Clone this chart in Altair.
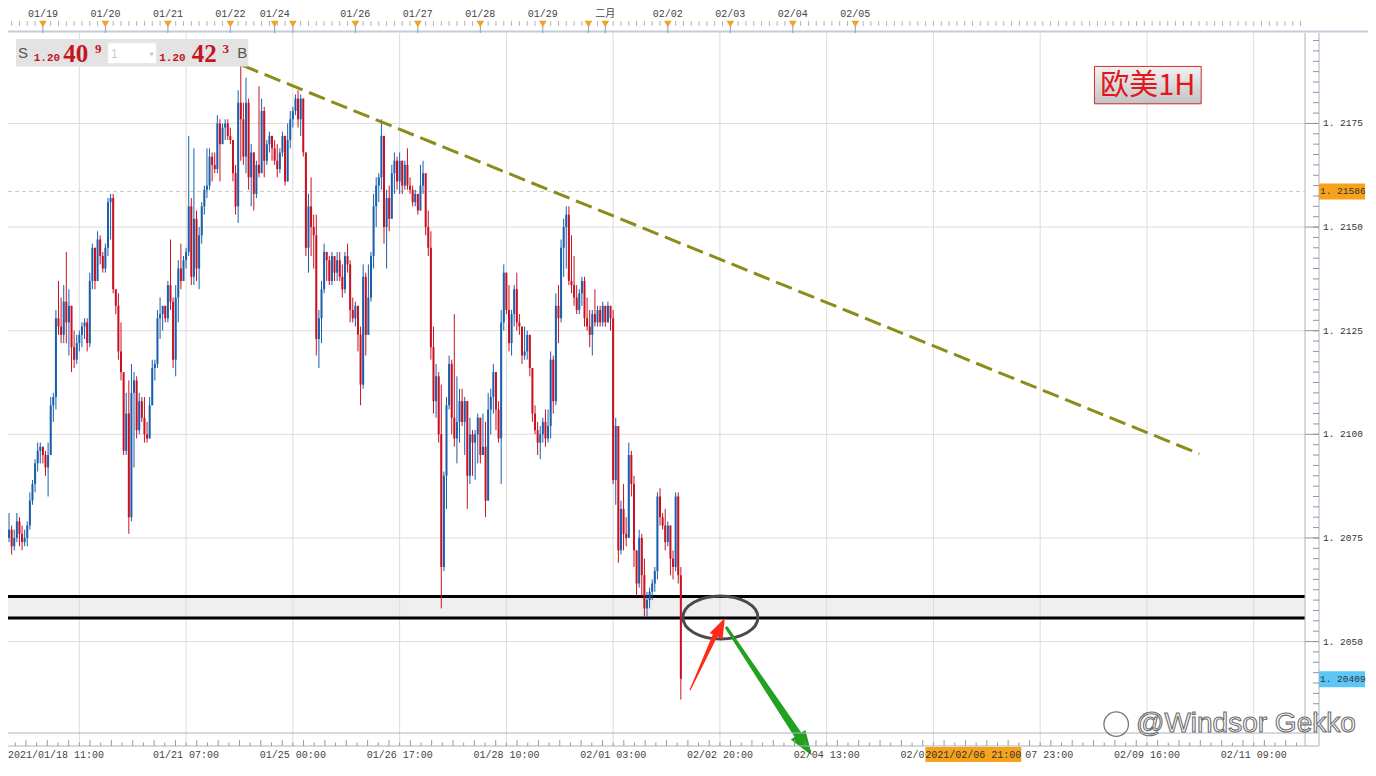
import altair as alt
import numpy as np
import pandas as pd

# ---------------- data (EUR/USD, 1H) ----------------
BASE = 1.2000          # price = BASE + pips * PIP
PIP = 0.0001
FIRST_OPEN = 75        # pips

CLOSE_PIPS = [
    77, 73, 75, 79, 76, 74, 75, 78, 84, 88,
    93, 96, 97, 95, 92, 95, 107, 109, 128, 126,
    124, 132, 127, 131, 121, 118, 122, 124, 126, 127,
    122, 137, 145, 137, 147, 143, 140, 145, 156, 157,
    135, 131, 120, 115, 96, 105, 80, 110, 113, 101,
    108, 104, 100, 99, 107, 116, 117, 128, 129, 131,
    128, 136, 132, 118, 133, 140, 137, 142, 144, 155,
    138, 152, 140, 148, 155, 159, 160, 167, 165, 164,
    175, 170, 174, 175, 172, 171, 163, 155, 180, 176,
    167, 180, 162, 168, 158, 165, 163, 178, 166, 170,
    172, 169, 166, 164, 168, 172, 161, 171, 176, 178,
    181, 176, 181, 168, 145, 155, 150, 148, 123, 128,
    135, 144, 142, 137, 143, 139, 142, 138, 135, 143,
    141, 130, 128, 131, 124, 112, 138, 124, 133, 143,
    155, 160, 162, 172, 150, 157, 152, 163, 166, 161,
    166, 160, 165, 160, 159, 156, 158, 154, 160, 163,
    150, 145, 121, 108, 114, 100, 68, 90, 107, 117,
    104, 99, 103, 108, 103, 108, 90, 100, 98, 100,
    104, 95, 97, 84, 106, 109, 115, 106, 99, 127,
    139, 130, 122, 129, 135, 127, 126, 119, 120, 124,
    116, 105, 101, 98, 100, 103, 99, 102, 118, 108,
    131, 128, 145, 150, 153, 137, 136, 133, 130, 134,
    137, 128, 126, 124, 129, 127, 130, 127, 131, 127,
    131, 128, 89, 102, 72, 82, 76, 75, 95, 88,
    72, 64, 75, 66, 58, 60, 62, 64, 67, 85,
    80, 78, 74, 78, 70, 68, 85, 66, 41,
]
HIGH_PIPS = [
    81, 78, 77, 81, 80, 78, 77, 79, 86, 89,
    94, 98, 98, 97, 96, 98, 109, 110, 130, 137,
    133, 136, 144, 135, 128, 125, 124, 125, 127, 128,
    128, 139, 146, 144, 149, 148, 144, 146, 157, 158,
    158, 135, 134, 127, 115, 110, 113, 117, 115, 114,
    110, 109, 109, 103, 109, 118, 118, 130, 133, 131,
    131, 137, 147, 133, 136, 142, 146, 143, 145, 172,
    157, 169, 154, 150, 156, 160, 169, 169, 168, 168,
    177, 176, 175, 176, 176, 174, 171, 165, 183, 189,
    180, 186, 181, 170, 168, 166, 184, 181, 179, 171,
    173, 172, 171, 170, 169, 173, 172, 175, 178, 179,
    182, 183, 182, 181, 168, 158, 162, 153, 153, 130,
    137, 146, 144, 143, 144, 141, 144, 144, 141, 144,
    146, 142, 133, 132, 131, 126, 141, 139, 141, 144,
    158, 162, 163, 176, 172, 159, 160, 165, 168, 167,
    168, 166, 166, 169, 162, 160, 159, 158, 165, 166,
    163, 154, 149, 126, 117, 115, 112, 91, 109, 119,
    118, 129, 114, 111, 111, 109, 108, 104, 101, 101,
    105, 104, 105, 103, 110, 111, 117, 115, 108, 130,
    141, 139, 136, 130, 136, 139, 129, 126, 126, 125,
    124, 116, 107, 103, 102, 104, 106, 106, 120, 119,
    134, 136, 147, 152, 155, 155, 148, 143, 136, 135,
    138, 138, 133, 130, 130, 135, 131, 131, 132, 131,
    132, 131, 130, 104, 102, 84, 88, 80, 98, 96,
    90, 72, 77, 76, 70, 62, 63, 65, 68, 86,
    87, 81, 82, 79, 78, 72, 86, 86, 68,
]
LOW_PIPS = [
    74, 71, 72, 74, 73, 72, 73, 73, 77, 83,
    86, 91, 93, 93, 90, 85, 95, 103, 106, 124,
    122, 122, 122, 119, 115, 116, 117, 120, 121, 123,
    120, 121, 135, 135, 137, 141, 139, 139, 143, 147,
    134, 129, 118, 113, 95, 95, 76, 79, 92, 99,
    100, 103, 98, 98, 99, 107, 113, 116, 123, 125,
    127, 127, 130, 116, 114, 127, 135, 137, 140, 143,
    136, 136, 137, 135, 146, 153, 157, 159, 161, 163,
    163, 161, 170, 171, 171, 170, 161, 153, 151, 166,
    165, 163, 159, 155, 154, 157, 162, 163, 162, 165,
    168, 166, 165, 162, 163, 167, 160, 161, 169, 174,
    177, 174, 172, 167, 143, 139, 143, 140, 119, 116,
    122, 134, 137, 136, 136, 137, 137, 137, 133, 134,
    139, 127, 127, 126, 120, 107, 111, 119, 124, 132,
    140, 150, 156, 159, 146, 140, 149, 152, 158, 159,
    158, 158, 159, 159, 158, 155, 155, 153, 154, 158,
    148, 143, 118, 105, 104, 98, 58, 67, 82, 106,
    100, 97, 93, 98, 102, 95, 82, 88, 90, 89,
    93, 93, 95, 80, 84, 100, 105, 101, 98, 88,
    125, 129, 120, 119, 126, 125, 124, 117, 118, 118,
    114, 103, 100, 95, 94, 98, 97, 98, 99, 105,
    107, 122, 127, 138, 140, 136, 134, 131, 129, 129,
    131, 126, 125, 121, 119, 126, 126, 126, 126, 126,
    127, 125, 88, 83, 69, 71, 72, 73, 75, 85,
    68, 61, 63, 61, 56, 56, 58, 60, 62, 65,
    78, 77, 72, 73, 66, 65, 67, 64, 36,
]

# axis / annotation values
GRID_PRICES = [1.2050, 1.2075, 1.2100, 1.2125, 1.2150, 1.2175]
GRID_IDX = [27, 68, 109, 150, 191, 232, 273, 314, 355, 396, 437, 478]
BOTTOM_IDX = [68, 109, 150, 191, 232, 273, 314, 437, 478]
BOTTOM_LABELS = ["01/21 07:00", "01/25 00:00", "01/26 17:00", "01/28 10:00", "02/01 03:00",
                 "02/02 20:00", "02/04 13:00", "02/09 16:00", "02/11 09:00"]
HIDDEN_LEFT = (355, "02/0")        # "02/05 06:00", partly covered by the crosshair label
HIDDEN_RIGHT = (396, "07 23:00")   # "02/07 23:00", partly covered by the crosshair label
FIRST_LABEL = "2021/01/18 11:00"
CROSS_LABEL = "2021/02/06 21:00"
TOP_MARK_IDX = [13, 37, 61, 85, 102, 109, 133, 157, 181, 205, 222.5, 229, 253, 277, 301, 325]
TOP_LABEL_IDX = [13, 37, 61, 85, 102, 133, 157, 181, 205, 229, 253, 277, 301, 325]
TOP_LABELS = ["01/19", "01/20", "01/21", "01/22", "01/24", "01/26", "01/27", "01/28",
              "01/29", "二月", "02/02", "02/03", "02/04", "02/05"]
LAST_PRICE = 1.21586
BID_PRICE = 1.20409
SUPPORT = [1.20609, 1.20557]
TREND_I = [89.6, 457.1]
TREND_P = [1.21890, 1.20953]
ELLIPSE_I, ELLIPSE_P = 273.2, 1.20558
RED_I = [261.6, 271.1]
RED_P = [1.20384, 1.20514]
RED_W = [1.2, 5.0]
RED_TIP = (274.9, 1.20557)
GREEN_I = [275.6, 303.3]
GREEN_P = [1.20533, 1.20272]
GREEN_W = [3.0, 8.0]
GREEN_TIP = (308.3, 1.20225)

# ---------------- styling / layout ----------------
RED = "#cc1020"
BLUE = "#1a5fae"
OLIVE = "#8c8c1a"
GRID = "#dcdcdc"
AXIS = "#a9b4c2"
MONO = "Liberation Mono, Noto Sans CJK SC"
W, H = 1297, 700
XDOM = [-0.4, 497.7]
YDOM = [1.202794, 1.219682]


def sx(rx):
    return rx * W / 1312


def sy(ry):
    return (ry - 30) * H / 712


xs = alt.Scale(domain=XDOM, nice=False, zero=False)
ys = alt.Scale(domain=YDOM, nice=False, zero=False)


def X(f):
    return alt.X(f, type="quantitative", scale=xs, axis=None)


def Y(f):
    return alt.Y(f, type="quantitative", scale=ys, axis=None)


def deco():
    return alt.Chart(pd.DataFrame({"z": [0]}))


# ---------------- candle table ----------------
n = len(CLOSE_PIPS)
df = pd.DataFrame({
    "i": np.arange(n),
    "o": [FIRST_OPEN] + CLOSE_PIPS[:-1],
    "c": CLOSE_PIPS,
    "h": HIGH_PIPS,
    "l": LOW_PIPS,
})
df["h"] = df[["o", "c", "h"]].max(axis=1)
df["l"] = df[["o", "c", "l"]].min(axis=1)
for col in ["o", "c", "h", "l"]:
    df[col] = BASE + df[col] * PIP
df["dir"] = np.where(df["c"] < df["o"], "down", "up")
cenc = alt.Color("dir:N", scale=alt.Scale(domain=["down", "up"], range=[RED, BLUE]), legend=None)

layers = []

# support band + grid
layers.append(alt.Chart(pd.DataFrame({"hi": [SUPPORT[0]], "lo": [SUPPORT[1]]}))
              .mark_rect(color="#efefef")
              .encode(x=alt.value(0), x2=alt.value(W), y=Y("hi"), y2=alt.Y2("lo")))
layers.append(alt.Chart(pd.DataFrame({"p": GRID_PRICES})).mark_rule(color=GRID, strokeWidth=1)
              .encode(x=alt.value(0), x2=alt.value(W), y=Y("p")))
layers.append(alt.Chart(pd.DataFrame({"g": GRID_IDX})).mark_rule(color=GRID, strokeWidth=1)
              .encode(x=X("g"), y=alt.value(0), y2=alt.value(H + 13)))
layers.append(alt.Chart(pd.DataFrame({"p": [LAST_PRICE]}))
              .mark_rule(color="#c8c8c8", strokeWidth=1, strokeDash=[4, 3])
              .encode(x=alt.value(0), x2=alt.value(W), y=Y("p")))
layers.append(alt.Chart(pd.DataFrame({"p": SUPPORT})).mark_rule(color="#000000", strokeWidth=3)
              .encode(x=alt.value(0), x2=alt.value(W), y=Y("p")))

# candles
layers.append(alt.Chart(df).mark_rule(strokeWidth=1)
              .encode(x=X("i"), y=Y("l"), y2=alt.Y2("h"), color=cenc))
layers.append(alt.Chart(df).mark_rule(strokeWidth=2)
              .encode(x=X("i"), y=Y("o"), y2=alt.Y2("c"), color=cenc))

# trend line
layers.append(alt.Chart(pd.DataFrame({"i": TREND_I, "p": TREND_P}))
              .mark_line(color=OLIVE, strokeWidth=3, strokeDash=[17, 7])
              .encode(x=X("i"), y=Y("p")))

# ellipse
ELLIPSE = "M-1,0A1,0.575,0,1,1,1,0A1,0.575,0,1,1,-1,0Z"
layers.append(alt.Chart(pd.DataFrame({"i": [ELLIPSE_I], "p": [ELLIPSE_P]}))
              .mark_point(shape=ELLIPSE, size=75 * 75, filled=False, color="#4a4a4a",
                          strokeWidth=3, opacity=1)
              .encode(x=X("i"), y=Y("p")))

# arrows
HEAD = "M0,0L0.6,1.7L-0.6,1.7Z"
for (ii, pp, ww, tip, col, ang, hs) in [
        (RED_I, RED_P, RED_W, RED_TIP, "#ff2a1a", 25.6, 560),
        (GREEN_I, GREEN_P, GREEN_W, GREEN_TIP, "#22a020", 146.5, 860)]:
    layers.append(alt.Chart(pd.DataFrame({"i": ii, "p": pp, "w": ww, "k": [0, 1]}))
                  .mark_trail(color=col)
                  .encode(x=X("i"), y=Y("p"), size=alt.Size("w:Q", scale=None),
                          order=alt.Order("k:Q")))
    layers.append(alt.Chart(pd.DataFrame({"i": [tip[0]], "p": [tip[1]]}))
                  .mark_point(shape=HEAD, size=hs, filled=True, color=col, opacity=1,
                              angle=ang, strokeWidth=0)
                  .encode(x=X("i"), y=Y("p")))

# ---------------- right price axis ----------------
minor = np.round(np.arange(1.2030, 1.2197, 0.00025), 5)
layers.append(deco().mark_rule(color=AXIS, strokeWidth=1)
              .encode(x=alt.value(W), y=alt.value(0), y2=alt.value(H + 13)))
layers.append(deco().mark_rule(color=AXIS, strokeWidth=1)
              .encode(x=alt.value(W + 14), y=alt.value(0), y2=alt.value(H + 13)))
layers.append(alt.Chart(pd.DataFrame({"p": minor})).mark_rule(color="#8d96a3", strokeWidth=1)
              .encode(x=alt.value(W + 8), x2=alt.value(W + 14), y=Y("p")))
layers.append(alt.Chart(pd.DataFrame({"p": GRID_PRICES})).mark_rule(color="#8d96a3", strokeWidth=1)
              .encode(x=alt.value(W), x2=alt.value(W + 14), y=Y("p")))
lab = pd.DataFrame({"p": GRID_PRICES})
lab["t"] = [("%.4f" % v).replace(".", ". ") for v in GRID_PRICES]
layers.append(alt.Chart(lab).mark_text(align="left", baseline="middle", font=MONO, fontSize=9.5,
                                       color="#333333")
              .encode(x=alt.value(W + 18), y=Y("p"), text="t:N"))
BOX = "M0,-0.174L1,-0.174L1,0.174L0,0.174Z"
for price, col in [(LAST_PRICE, "#f7a21b"), (BID_PRICE, "#5cc6f6")]:
    d = pd.DataFrame({"p": [price], "t": [("%.5f" % price).replace(".", ". ")]})
    layers.append(alt.Chart(d).mark_point(shape=BOX, size=92 * 92, filled=True, color=col,
                                          opacity=1, strokeWidth=0)
                  .encode(x=alt.value(W + 14), y=Y("p")))
    layers.append(alt.Chart(d).mark_text(align="left", baseline="middle", font=MONO, fontSize=9.5,
                                         color="#333333")
                  .encode(x=alt.value(W + 15), y=Y("p"), text="t:N"))

# ---------------- top date band ----------------
layers.append(deco().mark_rule(color="#c3ccd8", strokeWidth=2)
              .encode(x=alt.value(0), x2=alt.value(W + 63), y=alt.value(-1.5)))
ticks_top = pd.DataFrame({"i": np.arange(1, 497, 3)})
layers.append(alt.Chart(ticks_top).mark_rule(color="#b5b5b5", strokeWidth=1)
              .encode(x=X("i"), y=alt.value(-12), y2=alt.value(-7)))
tm = pd.DataFrame({"i": TOP_MARK_IDX})
layers.append(alt.Chart(tm).mark_rule(color="#8aa0b8", strokeWidth=1)
              .encode(x=X("i"), y=alt.value(-7), y2=alt.value(0)))
layers.append(alt.Chart(tm).mark_point(shape="triangle-down", size=60, filled=True,
                                       color="#f2a12a", opacity=1)
              .encode(x=X("i"), y=alt.value(-9)))
layers.append(alt.Chart(pd.DataFrame({"i": TOP_LABEL_IDX, "t": TOP_LABELS}))
              .mark_text(align="center", baseline="middle", font=MONO, fontSize=10, color="#444444")
              .encode(x=X("i"), y=alt.value(-19.5), text="t:N"))

# ---------------- bottom time band ----------------
layers.append(deco().mark_rule(color=AXIS, strokeWidth=1)
              .encode(x=alt.value(0), x2=alt.value(W + 14), y=alt.value(H)))
layers.append(deco().mark_rule(color=AXIS, strokeWidth=1)
              .encode(x=alt.value(0), x2=alt.value(W + 14), y=alt.value(H + 13)))
tb = np.arange(27 - 4.1 * 6, 497, 4.1)
ticks_bot = pd.DataFrame({"i": tb, "y0": [H + 13 - (6 if k % 2 else 3.5) for k in range(len(tb))]})
layers.append(alt.Chart(ticks_bot).mark_rule(color="#9a9a9a", strokeWidth=1)
              .encode(x=X("i"), y=alt.Y("y0:Q", scale=None), y2=alt.value(H + 13)))
layers.append(alt.Chart(pd.DataFrame({"i": BOTTOM_IDX, "t": BOTTOM_LABELS}))
              .mark_text(align="center", baseline="middle", font=MONO, fontSize=10, color="#444444")
              .encode(x=X("i"), y=alt.value(H + 22), text="t:N"))
layers.append(alt.Chart(pd.DataFrame({"i": [HIDDEN_LEFT[0]], "t": [HIDDEN_LEFT[1]]}))
              .mark_text(align="left", baseline="middle", font=MONO, fontSize=10, color="#444444",
                         dx=-33)
              .encode(x=X("i"), y=alt.value(H + 22), text="t:N"))
layers.append(alt.Chart(pd.DataFrame({"i": [HIDDEN_RIGHT[0]], "t": [HIDDEN_RIGHT[1]]}))
              .mark_text(align="right", baseline="middle", font=MONO, fontSize=10, color="#444444",
                         dx=33)
              .encode(x=X("i"), y=alt.value(H + 22), text="t:N"))
layers.append(deco().mark_text(align="left", baseline="middle", font=MONO, fontSize=10,
                               color="#444444", text=FIRST_LABEL)
              .encode(x=alt.value(0), y=alt.value(H + 22)))
layers.append(deco().mark_rect(color="#f7a21b")
              .encode(x=alt.value(sx(928)), x2=alt.value(sx(1025)),
                      y=alt.value(H + 14), y2=alt.value(H + 29)))
layers.append(deco().mark_text(align="center", baseline="middle", font=MONO, fontSize=10,
                               color="#333333", text=CROSS_LABEL)
              .encode(x=alt.value(sx(976.5)), y=alt.value(H + 22)))

# ---------------- top-left quote box ----------------
layers.append(deco().mark_rect(color="#e3e3e3")
              .encode(x=alt.value(sx(8)), x2=alt.value(sx(243)),
                      y=alt.value(sy(36)), y2=alt.value(sy(64))))
layers.append(deco().mark_rect(color="#ffffff", stroke="#e8e8e8", strokeWidth=1)
              .encode(x=alt.value(sx(101)), x2=alt.value(sx(150)),
                      y=alt.value(sy(40)), y2=alt.value(sy(61))))
QRED = "#c4161c"
txts = [
    ("S", sx(10), sy(50), 15, "#555555", "Liberation Sans", "normal", "middle"),
    ("1.20", sx(26), sy(58.5), 11, QRED, "Liberation Mono", "bold", "alphabetic"),
    ("40", sx(56), sy(59), 25, QRED, "Liberation Serif", "bold", "alphabetic"),
    ("9", sx(88), sy(50), 13, QRED, "Liberation Serif", "bold", "alphabetic"),
    ("1", sx(104), sy(51), 13, "#cccccc", "Liberation Sans", "normal", "middle"),
    ("▾", sx(143), sy(51), 9, "#cccccc", "DejaVu Sans", "normal", "middle"),
    ("1.20", sx(153), sy(58.5), 11, QRED, "Liberation Mono", "bold", "alphabetic"),
    ("42", sx(186), sy(59), 25, QRED, "Liberation Serif", "bold", "alphabetic"),
    ("3", sx(217), sy(50), 13, QRED, "Liberation Serif", "bold", "alphabetic"),
    ("B", sx(232), sy(50), 15, "#555555", "Liberation Sans", "normal", "middle"),
]
for t, x0, y0, fs, col, fnt, fw, bl in txts:
    layers.append(deco().mark_text(align="left", baseline=bl, fontSize=fs, color=col, font=fnt,
                                   fontWeight=fw, text=t)
                  .encode(x=alt.value(x0), y=alt.value(y0)))

# ---------------- title box ----------------
grad = alt.Gradient(gradient="linear",
                    stops=[alt.GradientStop(color="#f2f2f2", offset=0),
                           alt.GradientStop(color="#c2c2c2", offset=1)],
                    x1=0, x2=0, y1=0, y2=1)
layers.append(deco().mark_rect(color=grad, stroke="#d42a2a", strokeWidth=1)
              .encode(x=alt.value(sx(1099)), x2=alt.value(sx(1207)),
                      y=alt.value(sy(64)), y2=alt.value(sy(102))))
layers.append(deco().mark_text(align="center", baseline="middle", fontSize=29, color="#e3161c",
                               font="Noto Sans CJK SC", text="欧美1H")
              .encode(x=alt.value(sx(1153)), y=alt.value(sy(84))))

# ---------------- watermark ----------------
layers.append(deco().mark_point(shape="circle", size=600, filled=False, color="#777777",
                                strokeWidth=1.3, opacity=1)
              .encode(x=alt.value(sx(1121)), y=alt.value(sy(733))))
layers.append(deco().mark_text(align="left", baseline="middle", fontSize=28, font="Liberation Sans",
                               color="#ffffff", stroke="#6f6f6f", strokeWidth=1.1,
                               text="@Windsor Gekko")
              .encode(x=alt.value(sx(1141)), y=alt.value(sy(733))))

chart = (alt.layer(*layers)
         .properties(width=W, height=H,
                     autosize=alt.AutoSizeParams(type="none"),
                     padding={"left": 0, "top": 25, "right": 63, "bottom": 30},
                     background="#ffffff")
         .configure_view(stroke=None))

chart.save("out.html", embed_options={"renderer": "svg", "actions": False})
